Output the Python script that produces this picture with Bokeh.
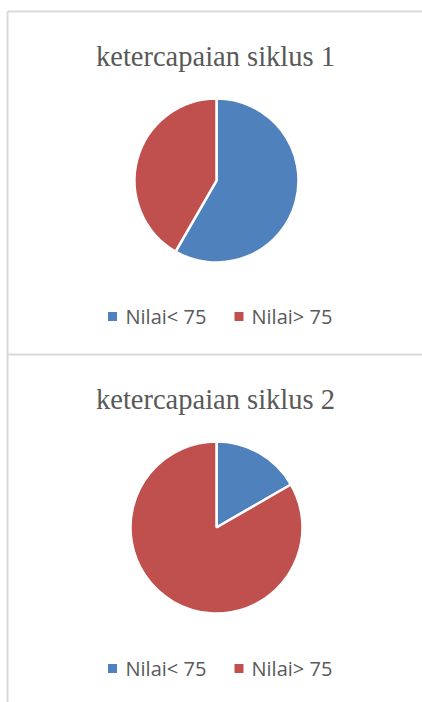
import math
from bokeh.plotting import figure
from bokeh.models import Range1d, ColumnDataSource
from bokeh.core.properties import value
from bokeh.embed import file_html
from bokeh.resources import INLINE

# ---- data ----
categories = ["Nilai< 75", "Nilai> 75"]
colors = ["#4F81BD", "#C0504D"]
titles = ["ketercapaian siklus 1", "ketercapaian siklus 2"]
values_siklus1 = [14, 10]
values_siklus2 = [4, 20]

W, H = 422, 702
p = figure(width=W, height=H, output_backend="svg", toolbar_location=None,
           x_range=Range1d(0, W), y_range=Range1d(0, H), min_border=0)
p.axis.visible = False
p.grid.visible = False
p.outline_line_color = None
p.background_fill_color = "white"
p.border_fill_color = "white"


def Y(y):
    return H - y


border = "#D9D9D9"
# frame lines
p.segment(x0=[7, 7, 7], y0=[Y(11), Y(11), Y(354)], x1=[W, 7, W], y1=[Y(11), Y(H), Y(354)],
          line_color=border, line_width=2)

panels = [
    dict(title=titles[0], vals=values_siklus1, cx=216, cy=180, r=82, ty=56, ly=316),
    dict(title=titles[1], vals=values_siklus2, cx=216, cy=527, r=86, ty=399, ly=668),
]

for pn in panels:
    vals = pn["vals"]
    total = float(sum(vals))
    starts, ends = [], []
    cum = 0.0
    for v in vals:
        starts.append(math.pi / 2 - 2 * math.pi * cum / total)
        cum += v
        ends.append(math.pi / 2 - 2 * math.pi * cum / total)
    src = ColumnDataSource(dict(x=[pn["cx"]] * len(vals), y=[Y(pn["cy"])] * len(vals),
                                start=starts, end=ends, color=colors, label=categories))
    p.wedge(x="x", y="y", radius=pn["r"], start_angle="start", end_angle="end",
            direction="clock", fill_color="color", line_color="white", line_width=2.5,
            source=src)
    p.text(x=[215], y=[Y(pn["ty"])], text=[pn["title"]], text_align="center",
           text_baseline="alphabetic", text_font=value("Liberation Serif"),
           text_font_size="28.5px", text_color="#595959")
    # legend
    lx_sq = [112, 238.5]
    lx_txt = [125, 251]
    p.scatter(x=lx_sq, y=[Y(pn["ly"])] * 2, marker="square", size=9,
              fill_color=colors, line_color=None)
    p.text(x=lx_txt, y=[Y(pn["ly"])] * 2, text=categories, text_align="left",
           text_baseline="middle", text_font=value("Open Sans"),
           text_font_size="20px", text_color="#595959")

open("out.html", "w").write(file_html(p, INLINE))
